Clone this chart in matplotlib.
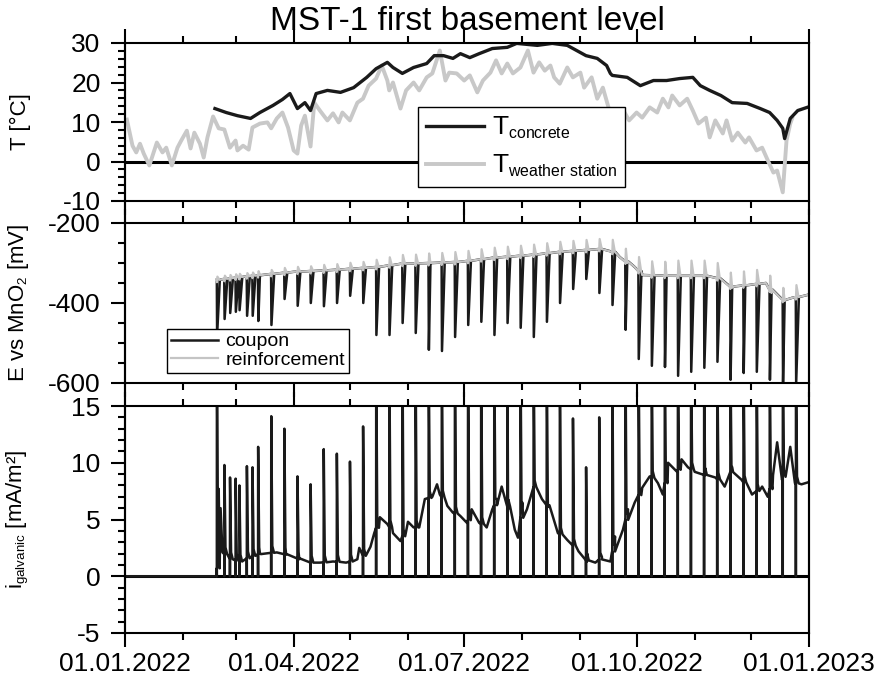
import numpy as np
import pandas as pd
import matplotlib
matplotlib.use("Agg")
import matplotlib.pyplot as plt
import matplotlib.dates as mdates
import matplotlib._mathtext as mathtext_impl
from matplotlib.lines import Line2D
from matplotlib.ticker import MultipleLocator

plt.rcParams['font.family'] = ['Liberation Sans', 'DejaVu Sans']
plt.rcParams['mathtext.fontset'] = 'custom'
plt.rcParams['mathtext.rm'] = 'Liberation Sans'
plt.rcParams['mathtext.default'] = 'rm'
plt.rcParams['axes.unicode_minus'] = False
# smaller subscripts, like the original figure
mathtext_impl.SHRINK_FACTOR = 0.6

START = pd.Timestamp("2022-01-01")
END = pd.Timestamp("2023-01-01")

# --- temperature (days after 01.01.2022) ---
t_conc_days = [48, 54, 60, 67, 72, 79, 84, 88, 92, 96, 99, 102, 108, 115, 122, 129, 134, 140,
               143, 148, 154, 161, 165, 170, 175, 179, 184, 189, 196, 204, 209, 220, 228, 236,
               241, 246, 252, 257, 259, 260, 268, 275, 282, 289, 296, 303, 307, 312, 318, 324,
               332, 339, 344, 348, 351, 352, 355, 359, 364]
t_conc = [13.4, 12.4, 11.6, 10.9, 12.4, 14.2, 15.7, 17.2, 13.4, 14.9, 12.9, 17.2, 18.0, 17.5,
          18.7, 21.3, 23.5, 25.1, 23.8, 22.3, 23.8, 24.8, 26.8, 26.8, 26.1, 27.3, 26.3, 27.3,
          28.6, 28.9, 29.9, 29.4, 29.9, 29.4, 28.1, 26.8, 26.1, 24.3, 22.3, 21.8, 21.3, 19.2,
          20.5, 20.5, 21.0, 21.3, 19.2, 18.0, 16.7, 14.9, 14.7, 13.4, 12.4, 10.4, 8.4, 5.8,
          10.9, 12.9, 13.7]

t_ws_days = [1, 4, 6, 8, 10, 13, 17, 20, 22, 25, 28, 30, 33, 35, 37, 40, 42, 44, 47, 50, 53,
             56, 59, 60, 63, 66, 68, 72, 76, 78, 81, 84, 87, 90, 92, 94, 96, 99, 101, 104, 108,
             111, 114, 116, 120, 124, 127, 130, 134, 137, 140, 141, 143, 147, 150, 154, 157,
             161, 164, 168, 171, 173, 177, 181, 184, 188, 191, 195, 198, 201, 204, 207, 211,
             215, 218, 221, 224, 227, 229, 232, 236, 239, 243, 245, 249, 252, 255, 258, 262,
             266, 269, 273, 276, 280, 284, 287, 290, 292, 296, 300, 303, 306, 310, 312, 315,
             319, 321, 324, 327, 331, 333, 337, 340, 343, 346, 348, 351, 353, 355, 356]
t_ws = [10.6, 4.0, 2.3, 4.5, 2.0, -1.0, 4.8, 2.3, 3.5, -1.0, 3.5, 5.3, 7.8, 3.3, 7.3, 4.5, 1.0,
        6.1, 11.4, 8.4, 8.1, 3.5, 5.3, 2.8, 4.0, 3.0, 8.6, 9.6, 9.9, 8.4, 10.9, 12.4, 8.6, 2.8,
        2.0, 9.1, 11.6, 3.8, 14.9, 12.9, 10.4, 12.2, 9.9, 12.4, 10.4, 14.9, 15.9, 19.2, 21.0,
        24.3, 20.5, 18.0, 20.0, 13.4, 18.0, 20.0, 18.0, 21.3, 22.3, 28.1, 20.5, 22.5, 22.3,
        20.5, 21.8, 17.5, 20.5, 22.5, 25.6, 22.3, 24.8, 22.3, 23.8, 28.1, 22.5, 25.1, 23.0,
        24.3, 21.3, 19.7, 23.8, 21.3, 22.5, 18.7, 21.3, 15.9, 18.7, 13.7, 10.4, 12.9, 10.4,
        12.4, 11.1, 13.7, 12.4, 15.9, 13.7, 16.7, 14.2, 15.9, 12.9, 9.6, 11.1, 6.1, 10.4, 7.1,
        10.4, 5.3, 7.3, 4.8, 6.1, 2.8, 3.5, 0.3, -2.8, -2.3, -7.8, 5.3, 9.6, 10.9]

# --- potential ---
e_base_days = [49, 61, 72, 90, 109, 134, 147, 163, 179, 196, 216, 232, 253, 260, 264, 268,
               272, 276, 289, 309, 316, 324, 331, 342, 345, 352, 356, 364]
e_base = [-342, -335, -330, -322, -318, -310, -302, -300, -297, -287, -280, -272, -265, -272,
          -285, -300, -310, -330, -332, -332, -338, -362, -355, -350, -375, -395, -387, -380]

# measurement events (days after 01.01.2022)
event_days = [49, 53, 56, 59, 61, 65, 68] + list(range(71, 359, 7))
coupon_min = [-480, -440, -425, -422, -418, -432, -432, -445, -455, -390, -407, -400, -408,
              -400, -382, -400, -480, -480, -450, -475, -517, -520, -485, -455, -447, -480,
              -450, -462, -485, -447, -400, -365, -340, -375, -405, -467, -540, -557, -560,
              -582, -572, -562, -547, -592, -575, -572, -592, -600, -600]
reinf_peak = [8, 8, 8, 8, 8, 8, 8, 10, 10, 12, 12, 12, 14, 14, 15, 15, 18, 20, 22, 22, 24, 24,
              25, 25, 25, 25, 25, 25, 25, 25, 25, 25, 25, 25, 30, 32, 35, 35, 35, 38, 38, 38,
              38, 35, 35, 35, 35, 30, 30]
i_peak = [20, 9.8, 8.7, 8.6, 8.0, 9.7, 9.6, 11.4, 14.1, 13.0, 8.8, 8.1, 11.2, 10.8, 10.1,
          13.2, 20, 20, 20, 20, 20, 20, 20, 20, 20, 20, 20, 20, 20, 20, 20, 13.9, 9.6, 14.0,
          20, 20, 20, 20, 20, 20, 20, 20, 20, 20, 20, 20, 20, 20, 20]

# --- galvanic current ---
i_base_days = [0, 48.9, 50, 51, 52, 56, 61, 68, 72, 81, 86, 93, 99, 104, 111, 118, 124, 125,
               127, 131, 133, 136, 140, 143, 147, 151, 154, 157, 160, 164, 166.5, 168, 172,
               175, 179, 182.5, 185, 189, 193, 196, 198.5, 201, 204.4, 208, 209.7, 212, 214.5,
               218.8, 222.5, 225.7, 231, 236, 242, 246.5, 251, 254.5, 259, 261.5, 265.7, 268.4,
               272, 276, 280, 284.4, 287, 289.8, 294.6, 297, 300.4, 304, 309.5, 315, 320, 324,
               329, 334.6, 340, 343, 345.8, 348, 350.6, 355, 357.5, 361, 365]
i_base = [0, 0, 7.7, 6.0, 2.1, 1.5, 1.3, 1.8, 2.0, 2.1, 1.9, 1.5, 1.2, 1.2, 1.3, 1.2, 1.5, 2.5,
          1.8, 2.6, 3.8, 5.2, 4.6, 3.8, 3.1, 4.8, 4.3, 4.3, 6.8, 7.0, 8.1, 7.2, 6.2, 5.6, 5.3,
          4.7, 5.9, 4.7, 4.3, 5.9, 6.8, 7.9, 5.9, 4.1, 3.4, 6.5, 5.9, 8.3, 6.8, 6.1, 3.8, 3.2,
          2.2, 1.3, 1.2, 1.7, 1.3, 3.5, 4.1, 5.9, 6.5, 7.8, 8.8, 8.2, 7.2, 10.0, 9.2, 10.3,
          9.6, 9.2, 8.9, 8.7, 7.9, 9.6, 8.5, 7.2, 7.9, 7.0, 8.9, 11.8, 8.5, 11.4, 8.2, 8.1, 8.3]


def to_dates(days):
    return START + pd.to_timedelta(np.asarray(days, dtype=float), unit="D")


def add_events(days, vals, offsets, values):
    xs, ys = list(days), list(vals)
    for off, v in zip(offsets, values):
        xs += list(off)
        ys += list(v)
    order = np.argsort(xs, kind="stable")
    return np.asarray(xs)[order], np.asarray(ys)[order]


ev = np.asarray(event_days, dtype=float)
eb = np.interp(ev, e_base_days, e_base)
ib = np.interp(ev, i_base_days, i_base)

coupon_x, coupon_y = add_events(
    e_base_days, e_base,
    [(d - 0.05, d + 0.15, d + 1.6) for d in ev],
    [(b, m, b) for b, m in zip(eb, coupon_min)])
reinf_x, reinf_y = add_events(
    e_base_days, e_base,
    [(d - 0.3, d, d + 0.3, d + 1.4) for d in ev],
    [(b, b - 6, b + p, b) for b, p in zip(eb, reinf_peak)])
cur_x, cur_y = add_events(
    i_base_days, i_base,
    [(d - 0.03, d, d + 0.05, d + 0.6, d + 1.5) for d in ev],
    [(b, 0, p, b + 0.6, b) for b, p in zip(ib, i_peak)])

W, H = 875, 682
fig = plt.figure(figsize=(W / 100, H / 100), dpi=100)
L, R = 125, 809
panels = [(43, 201), (223, 383), (406, 633)]
axes = [fig.add_axes([L / W, 1 - b / H, (R - L) / W, (b - t) / H]) for t, b in panels]
ax1, ax2, ax3 = axes

ax1.axhline(0, color='black', lw=2.2, zorder=1)
ax1.plot(to_dates(t_ws_days), t_ws, color='#c8c8c8', lw=2.8, label=r'T$_{\mathrm{weather\ station}}$')
ax1.plot(to_dates(t_conc_days), t_conc, color='#1a1a1a', lw=2.4, label=r'T$_{\mathrm{concrete}}$')

ax2.plot(to_dates(coupon_x), coupon_y, color='#1a1a1a', lw=1.8, label='coupon')
ax2.plot(to_dates(reinf_x), reinf_y, color='#c4c4c4', lw=1.6, label='reinforcement')

ax3.axhline(0, color='black', lw=2.2, zorder=1)
ax3.plot(to_dates(cur_x), cur_y, color='#1a1a1a', lw=1.8)

ax1.set_ylim(-10, 30)
ax1.yaxis.set_major_locator(MultipleLocator(10))
ax1.yaxis.set_minor_locator(MultipleLocator(2))
ax2.set_ylim(-600, -200)
ax2.yaxis.set_major_locator(MultipleLocator(200))
ax2.yaxis.set_minor_locator(MultipleLocator(50))
ax3.set_ylim(-5, 15)
ax3.yaxis.set_major_locator(MultipleLocator(5))
ax3.yaxis.set_minor_locator(MultipleLocator(1))

for ax in axes:
    ax.set_xlim(START, END)
    ax.xaxis.set_major_locator(mdates.MonthLocator(bymonth=[1, 4, 7, 10]))
    ax.xaxis.set_minor_locator(mdates.MonthLocator())
    ax.xaxis.set_major_formatter(mdates.DateFormatter("%d.%m.%Y"))
    ax.tick_params(axis='x', which='both', direction='out', top=True, bottom=True)
    ax.tick_params(which='major', length=10, width=1.5, labelsize=19, pad=2)
    ax.tick_params(which='minor', length=5, width=1.5)
    ax.tick_params(axis='y', which='major', pad=7.5)
    for s in ax.spines.values():
        s.set_linewidth(1.5)
    ax.yaxis.set_label_coords(-0.137, 0.5)
ax1.tick_params(axis='x', labelbottom=False)
ax2.tick_params(axis='x', labelbottom=False)
ax3.tick_params(axis='x', labelsize=19, pad=4)

# keep the frame's left and right edges running through the gaps
for x in (L, R):
    fig.add_artist(Line2D([x / W, x / W], [1 - 633 / H, 1 - 43 / H], transform=fig.transFigure,
                          color='black', lw=1.5))

ax1.set_ylabel("T [°C]", fontsize=16)
ax2.set_ylabel(r"E vs MnO$_2$ [mV]", fontsize=16)
ax3.set_ylabel(r"i$_{\mathrm{galvanic}}$ [mA/m²]", fontsize=16)

fig.text((L + R) / 2 / W, 1 - 22 / H, "MST-1 first basement level", ha='center', va='center',
         fontsize=24)

h, lab = ax1.get_legend_handles_labels()
leg1 = ax1.legend(h[::-1], lab[::-1], loc='upper left', bbox_to_anchor=(418 / W, 1 - 107 / H),
                  bbox_transform=fig.transFigure, borderaxespad=0, fontsize=19, handlelength=2.2,
                  frameon=True, fancybox=False, framealpha=1, edgecolor='black',
                  labelspacing=0.45, borderpad=0.3, handletextpad=0.3)
leg1.get_frame().set_linewidth(1.0)
leg2 = ax2.legend(loc='upper left', bbox_to_anchor=(167 / W, 1 - 329 / H),
                  bbox_transform=fig.transFigure, borderaxespad=0, fontsize=14, handlelength=2.4,
                  frameon=True, fancybox=False, framealpha=1, edgecolor='black',
                  labelspacing=0.05, borderpad=0.2, handletextpad=0.4)
leg2.get_frame().set_linewidth(1.0)

fig.savefig("out.png", dpi=100)
